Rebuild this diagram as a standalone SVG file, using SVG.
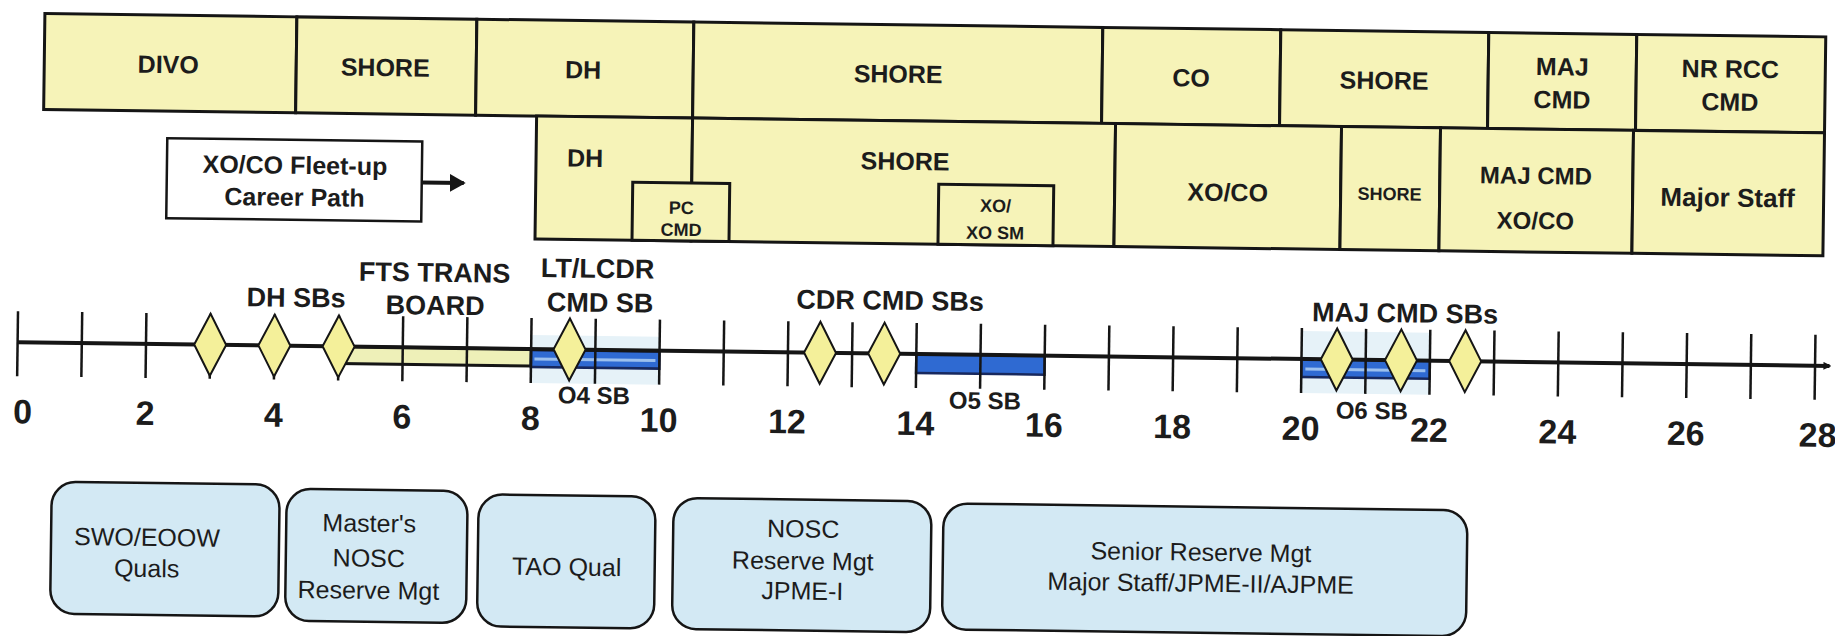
<svg xmlns="http://www.w3.org/2000/svg" xmlns:xlink="http://www.w3.org/1999/xlink" width="1835" height="636" viewBox="0 0 1835 636">
<style>
text{font-family:"Liberation Sans",Arial,sans-serif;fill:#1c1c1c;text-anchor:middle}
.cell{fill:#f6f3b8;stroke:#151515;stroke-width:3}
.qual{fill:#d3e9f4;stroke:#151515;stroke-width:2.5}
.tick{stroke:#151515;stroke-width:2.5}
.r1{font-size:25px;font-weight:bold}
.r2{font-size:25px;font-weight:bold}
.sm{font-size:18px;font-weight:bold}
.lbl{font-size:27px;font-weight:bold}
.num{font-size:34px;font-weight:bold}
.osb{font-size:24px;font-weight:bold}
.q{font-size:25px}
.dia{fill:#f4f09a;stroke:#151515;stroke-width:2}
.blue{fill:#2f6ad2;stroke:#17285e;stroke-width:2.5}
.shade{fill:#e6f2f8}
</style>
<defs>
<path id="dia" d="M0,-31 L16,0 L0,31 L-16,0 Z"/>
<marker id="ah" markerWidth="8" markerHeight="8" refX="6" refY="4" orient="auto" markerUnits="userSpaceOnUse">
<path d="M0,0 L8,4 L0,8 Z" fill="#151515"/>
</marker>
<marker id="ah2" markerWidth="16" markerHeight="18" refX="14" refY="9" orient="auto" markerUnits="userSpaceOnUse">
<path d="M0,0 L16,9 L0,18 Z" fill="#151515"/>
</marker>
</defs>
<rect width="1835" height="636" fill="#ffffff"/>
<g transform="rotate(0.75 917 318)">
<!-- Row 1 -->
<g id="r1-divo"><rect class="cell" x="41" y="25" width="252" height="96"/><text class="r1" x="165" y="83">DIVO</text></g>
<g id="r1-shore1"><rect class="cell" x="293" y="25" width="180" height="96"/><text class="r1" x="382" y="83">SHORE</text></g>
<g id="r1-dh"><rect class="cell" x="473" y="25" width="217" height="96"/><text class="r1" x="580" y="83">DH</text></g>
<g id="r1-shore2"><rect class="cell" x="690" y="25" width="409" height="96"/><text class="r1" x="895" y="83">SHORE</text></g>
<g id="r1-co"><rect class="cell" x="1099" y="25" width="178" height="96"/><text class="r1" x="1188" y="83">CO</text></g>
<g id="r1-shore3"><rect class="cell" x="1277" y="25" width="208" height="96"/><text class="r1" x="1381" y="83">SHORE</text></g>
<g id="r1-majcmd"><rect class="cell" x="1485" y="25" width="148" height="96"/><text class="r1" x="1559" y="67">MAJ</text><text class="r1" x="1559" y="100">CMD</text></g>
<g id="r1-nrrcc"><rect class="cell" x="1633" y="25" width="189" height="96"/><text class="r1" x="1727" y="67">NR RCC</text><text class="r1" x="1727" y="100">CMD</text></g>
<!-- Row 2 -->
<g id="r2-dh"><rect class="cell" x="534" y="121" width="156" height="123"/><text class="r2" x="583" y="171">DH</text></g>
<g id="r2-shore1"><rect class="cell" x="690" y="121" width="423" height="123"/><text class="r2" x="903" y="170">SHORE</text></g>
<g id="r2-pccmd"><rect class="cell" x="631" y="186" width="97" height="58"/><text class="sm" x="680" y="217">PC</text><text class="sm" x="680" y="239">CMD</text></g>
<g id="r2-xosm"><rect class="cell" x="937" y="184" width="115" height="60"/><text class="sm" x="994" y="211">XO/</text><text class="sm" x="994" y="238">XO SM</text></g>
<g id="r2-xoco"><rect class="cell" x="1113" y="121" width="226" height="123"/><text class="r2" x="1226" y="197">XO/CO</text></g>
<g id="r2-shore2"><rect class="cell" x="1339" y="121" width="99" height="123"/><text class="sm" x="1388" y="194">SHORE</text></g>
<g id="r2-majcmd"><rect class="cell" x="1438" y="121" width="193" height="123"/><text class="r2" x="1534" y="176" style="font-size:24px">MAJ CMD</text><text class="r2" x="1534" y="221" style="font-size:24px">XO/CO</text></g>
<g id="r2-majstaff"><rect class="cell" x="1631" y="121" width="191" height="123"/><text class="r2" x="1726" y="196" style="font-size:26px">Major Staff</text></g>
<!-- Fleet-up label -->
<g id="fleetup"><rect x="165" y="148" width="255" height="80" fill="#ffffff" stroke="#151515" stroke-width="2.5"/><text class="r2" x="293" y="182">XO/CO Fleet-up</text><text class="r2" x="293" y="214">Career Path</text></g>
<g id="connectors"><line x1="420" y1="189" x2="462" y2="189" stroke="#151515" stroke-width="4" marker-end="url(#ah2)"/></g>
<!-- Timeline -->
<g id="timeline">
<rect class="shade" x="531.6" y="340" width="128.4" height="48"/>
<rect class="shade" x="1302" y="326" width="128.4" height="62"/>
<rect x="339" y="354" width="192.6" height="17" fill="#eef0b8" stroke="#151515" stroke-width="3"/>
<rect class="blue" x="531.6" y="355" width="128.4" height="17"/>
<line x1="535" y1="364" x2="656" y2="364" stroke="#9cc0ee" stroke-width="3"/>
<rect class="blue" x="916.8" y="354" width="128.4" height="19"/>
<rect class="blue" x="1302" y="354" width="128.4" height="18"/>
<line x1="1306" y1="364" x2="1426" y2="364" stroke="#9cc0ee" stroke-width="3"/>
<line x1="18" y1="354" x2="1830" y2="354" stroke="#151515" stroke-width="4" marker-end="url(#ah)"/>
<g class="tick">
<line x1="18" y1="323" x2="18" y2="388"/><line x1="82.2" y1="323" x2="82.2" y2="388"/><line x1="146.4" y1="323" x2="146.4" y2="388"/><line x1="210.6" y1="323" x2="210.6" y2="388"/><line x1="274.8" y1="323" x2="274.8" y2="388"/><line x1="339" y1="323" x2="339" y2="388"/><line x1="403.2" y1="323" x2="403.2" y2="388"/><line x1="467.4" y1="323" x2="467.4" y2="388"/><line x1="531.6" y1="323" x2="531.6" y2="388"/><line x1="595.8" y1="323" x2="595.8" y2="388"/><line x1="660" y1="323" x2="660" y2="388"/><line x1="724.2" y1="323" x2="724.2" y2="388"/><line x1="788.4" y1="323" x2="788.4" y2="388"/><line x1="852.6" y1="323" x2="852.6" y2="388"/><line x1="916.8" y1="323" x2="916.8" y2="388"/><line x1="981" y1="323" x2="981" y2="388"/><line x1="1045.2" y1="323" x2="1045.2" y2="388"/><line x1="1109.4" y1="323" x2="1109.4" y2="388"/><line x1="1173.6" y1="323" x2="1173.6" y2="388"/><line x1="1237.8" y1="323" x2="1237.8" y2="388"/><line x1="1302" y1="323" x2="1302" y2="388"/><line x1="1366.2" y1="323" x2="1366.2" y2="388"/><line x1="1430.4" y1="323" x2="1430.4" y2="388"/><line x1="1494.6" y1="323" x2="1494.6" y2="388"/><line x1="1558.8" y1="323" x2="1558.8" y2="388"/><line x1="1623" y1="323" x2="1623" y2="388"/><line x1="1687.2" y1="323" x2="1687.2" y2="388"/><line x1="1751.4" y1="323" x2="1751.4" y2="388"/><line x1="1815.6" y1="323" x2="1815.6" y2="388"/>
</g>
</g>
<g id="diamonds">
<use xlink:href="#dia" href="#dia" class="dia" x="210.6" y="354"/>
<use xlink:href="#dia" href="#dia" class="dia" x="274.8" y="354"/>
<use xlink:href="#dia" href="#dia" class="dia" x="339" y="354"/>
<use xlink:href="#dia" href="#dia" class="dia" x="570" y="354"/>
<use xlink:href="#dia" href="#dia" class="dia" x="820.5" y="354"/>
<use xlink:href="#dia" href="#dia" class="dia" x="884.7" y="354"/>
<use xlink:href="#dia" href="#dia" class="dia" x="1337.3" y="354"/>
<use xlink:href="#dia" href="#dia" class="dia" x="1401.5" y="354"/>
<use xlink:href="#dia" href="#dia" class="dia" x="1465.7" y="354"/>
</g>
<g id="labels">
<text class="lbl" x="296" y="315">DH SBs</text>
<text class="lbl" x="434" y="288">FTS TRANS</text>
<text class="lbl" x="435" y="321">BOARD</text>
<text class="lbl" x="597" y="282">LT/LCDR</text>
<text class="lbl" x="600" y="316">CMD SB</text>
<text class="lbl" x="890" y="310">CDR CMD SBs</text>
<text class="lbl" x="1405" y="316">MAJ CMD SBs</text>
<text class="osb" x="595" y="408">O4 SB</text>
<text class="osb" x="986" y="408">O5 SB</text>
<text class="osb" x="1373" y="413">O6 SB</text>
</g>
<g id="numbers">
<text class="num" x="24" y="435">0</text><text class="num" x="146.4" y="435">2</text><text class="num" x="274.8" y="435">4</text><text class="num" x="403.2" y="435">6</text><text class="num" x="531.6" y="435">8</text><text class="num" x="660" y="435">10</text><text class="num" x="788.4" y="435">12</text><text class="num" x="916.8" y="435">14</text><text class="num" x="1045.2" y="435">16</text><text class="num" x="1173.6" y="435">18</text><text class="num" x="1302" y="435">20</text><text class="num" x="1430.4" y="435">22</text><text class="num" x="1558.8" y="435">24</text><text class="num" x="1687.2" y="435">26</text><text class="num" x="1819" y="435">28</text>
</g>
<!-- Qualification boxes -->
<g id="q-swo"><rect class="qual" x="54" y="493" width="228" height="132" rx="24"/><text class="q" x="150" y="556">SWO/EOOW</text><text class="q" x="150" y="587">Quals</text></g>
<g id="q-masters"><rect class="qual" x="289" y="497" width="181" height="132" rx="24"/><text class="q" x="372" y="539">Master's</text><text class="q" x="372" y="574">NOSC</text><text class="q" x="372" y="606">Reserve Mgt</text></g>
<g id="q-tao"><rect class="qual" x="481" y="500" width="177" height="132" rx="24"/><text class="q" x="570" y="580">TAO Qual</text></g>
<g id="q-nosc"><rect class="qual" x="676" y="501" width="258" height="131" rx="24"/><text class="q" x="806" y="539">NOSC</text><text class="q" x="806" y="571">Reserve Mgt</text><text class="q" x="806" y="601">JPME-I</text></g>
<g id="q-senior"><rect class="qual" x="946" y="503" width="524" height="126" rx="24"/><text class="q" x="1204" y="557">Senior Reserve Mgt</text><text class="q" x="1204" y="588">Major Staff/JPME-II/AJPME</text></g>
</g>
</svg>
